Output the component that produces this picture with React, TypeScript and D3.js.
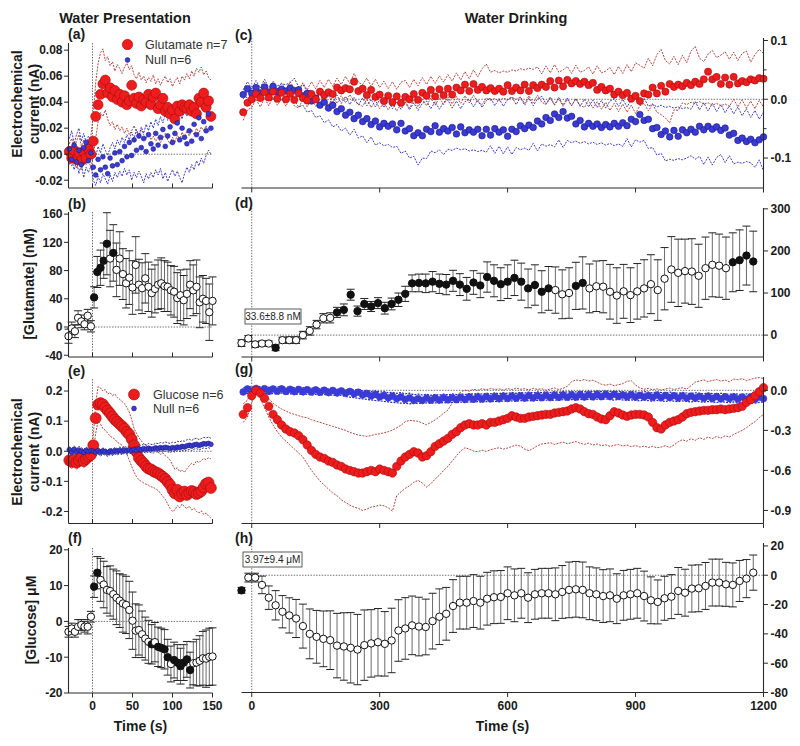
import React from "react";
import * as d3 from "d3";

const FONT = "'Liberation Sans', Arial, Helvetica, sans-serif";
const NARROW = "'Liberation Sans Narrow', 'Arial Narrow', 'Liberation Sans', Arial, sans-serif";

// ---------------- tick values ----------------
const xTicksLeft = [0, 50, 100, 150];
const xTicksRight = [0, 300, 600, 900, 1200];
const yTicksA = [-0.02, 0, 0.02, 0.04, 0.06, 0.08];
const yTicksB = [-40, 0, 40, 80, 120, 160];
const yTicksC = [-0.1, 0, 0.1];
const yMinorC = [-0.05, 0.05];
const yTicksD = [0, 100, 200, 300];
const yTicksE = [-0.2, -0.1, 0, 0.1, 0.2];
const yTicksF = [-20, -10, 0, 10, 20];
const yTicksG = [-0.9, -0.6, -0.3, 0];
const yTicksH = [-80, -60, -40, -20, 0, 20];

// ---------------- sample times (s) ----------------
const tFast = d3.range(60).map((i) => -29 + 3 * i); // panels a, e
const tBin4 = d3.range(46).map((i) => -30 + 4 * i); // panels b, f
const tDrink = d3.range(123).map((i) => -20 + 10 * i); // panels c, g
const tBin16 = d3.range(76).map((i) => -24 + 16 * i); // panels d, h

// ---------------- (a) Water presentation, glutamate sensor (nA) ----------------
const aGluMean = [.002,-.003,.003,-.004,.001,-.005,.002,-.003,.004,.0,.01,.029,.038,.046,.054,.057,.047,.051,.044,.049,.042,.046,.04,.045,.038,.041,.053,.043,.039,.044,.037,.042,.04,.046,.038,.044,.047,.035,.038,.043,.033,.036,.031,.034,.027,.037,.033,.038,.036,.035,.038,.033,.036,.031,.043,.04,.047,.036,.041,.029];
const aGluUp = [.008,.012,.004,.01,.015,.006,.011,.003,.009,.014,.03,.055,.07,.078,.081,.072,.075,.068,.071,.064,.069,.066,.062,.067,.07,.065,.068,.061,.058,.063,.057,.06,.055,.059,.056,.061,.054,.058,.053,.057,.06,.055,.058,.052,.056,.059,.054,.06,.057,.062,.058,.064,.06,.066,.063,.067,.061,.064,.059,.057];
const aGluLo = [-.004,-.009,-.002,-.011,-.006,-.012,-.003,-.008,-.005,-.01,-.002,.012,.025,.032,.029,.034,.027,.022,.025,.019,.023,.018,.021,.016,.02,.015,.018,.022,.017,.014,.019,.015,.012,.016,.011,.014,.01,.013,.009,.012,.016,.011,.008,.013,.009,.015,.011,.017,.013,.018,.014,.019,.015,.02,.016,.021,.018,.022,.017,.02];
const aNullMean = [.004,-.004,.007,-.006,.003,-.008,.005,.009,-.005,.001,-.01,-.016,-.004,-.012,-.002,-.01,-.015,-.003,-.009,.001,-.008,.002,-.005,.006,-.002,.009,-.001,.011,.003,.014,.005,.012,.002,.015,.008,.004,.016,.007,.013,.019,.006,.014,.021,.009,.016,.024,.011,.02,.013,.008,.018,.01,.023,.015,.028,.012,.025,.018,.031,.02];
const aNullUp = [.012,.018,.008,.015,.02,.01,.016,.009,.014,.011,.004,-.002,.006,.001,.008,.003,-.001,.005,.009,.004,.011,.007,.013,.009,.015,.011,.017,.012,.019,.014,.021,.016,.023,.018,.025,.02,.027,.022,.029,.024,.031,.026,.033,.028,.035,.03,.032,.027,.034,.029,.036,.031,.038,.033,.04,.035,.042,.037,.044,.04];
const aNullLo = [-.008,-.003,-.012,-.005,-.015,-.007,-.018,-.01,-.014,-.009,-.02,-.024,-.017,-.022,-.015,-.019,-.023,-.016,-.021,-.014,-.018,-.013,-.017,-.011,-.016,-.012,-.02,-.014,-.018,-.013,-.017,-.022,-.015,-.019,-.014,-.018,-.012,-.016,-.011,-.019,-.014,-.021,-.016,-.012,-.017,-.013,-.018,-.022,-.015,-.01,-.014,-.008,-.012,-.005,-.009,-.003,-.007,-.001,.003,.0];

// ---------------- (b) [Glutamate] nM, 4 s bins ----------------
const bGlu = [-13,-2,-6,13,8,4,16,1,42,78,84,94,118,97,105,81,97,75,62,70,56,88,60,55,69,57,48,54,60,62,58,57,52,50,41,45,38,47,60,52,57,35,40,37,21,37];
const bSem = [10,9,9,10,9,8,9,8,15,22,25,25,44,40,40,38,38,36,35,38,38,40,36,36,35,35,34,34,35,36,36,35,35,36,36,36,35,35,34,36,38,36,33,32,40,34];
const bFilled = [8, 9, 10, 11, 12, 14];

// ---------------- (c) Water drinking, glutamate sensor (nA) ----------------
const cGluMean = [-.022,-.006,.0,.009,.002,.012,.003,.013,.001,.011,.0,.009,-.001,.01,.002,-.002,.009,.0,.013,.007,.012,.009,.02,.015,.019,.017,.03,.014,.018,.007,.016,.004,.008,-.003,.006,-.005,.005,-.006,.004,.0,.009,-.001,.011,.006,.016,.005,.017,.007,.018,.008,.02,.015,.025,.014,.026,.016,.021,.015,.019,.014,.018,.013,.024,.014,.02,.015,.025,.014,.024,.019,.025,.021,.031,.02,.032,.022,.033,.027,.031,.026,.03,.024,.028,.016,.021,.015,.018,.008,.013,.007,.011,.001,.006,-.003,.01,.008,.02,.01,.023,.013,.026,.021,.025,.022,.028,.024,.03,.026,.034,.047,.034,.038,.026,.037,.025,.038,.027,.031,.029,.034,.032,.036,.035];
const cGluUp = [.0,.014,.01,.026,.014,.029,.016,.031,.017,.028,.015,.03,.018,.013,.028,.016,.03,.018,.032,.02,.034,.022,.036,.025,.039,.027,.044,.029,.025,.036,.022,.034,.02,.031,.018,.03,.017,.029,.032,.02,.034,.023,.037,.025,.039,.027,.04,.029,.042,.031,.045,.033,.047,.035,.05,.038,.052,.06,.046,.049,.045,.048,.046,.05,.048,.052,.05,.053,.051,.055,.043,.057,.045,.059,.046,.05,.056,.044,.058,.046,.049,.055,.043,.057,.045,.048,.054,.042,.056,.044,.059,.047,.062,.058,.053,.07,.057,.076,.085,.066,.06,.073,.059,.075,.062,.082,.09,.07,.064,.077,.083,.071,.075,.081,.068,.08,.066,.078,.082,.063,.076,.085,.078];
const cGluLo = [-.036,-.018,-.014,.0,-.013,.002,-.011,.004,-.01,.001,-.012,.002,-.011,-.015,.0,-.013,.001,-.012,.0,.002,-.011,.005,-.007,.006,-.006,.008,-.003,-.008,-.012,.0,-.014,-.002,-.016,-.005,-.018,-.006,-.02,-.008,-.004,-.015,-.002,-.013,.0,-.011,.002,-.01,.003,-.009,.004,-.008,.005,-.007,.006,-.006,.007,-.005,-.009,.002,-.002,.001,-.003,.002,-.001,.003,.0,.004,-.007,.006,-.006,.007,-.005,-.009,.002,-.01,.001,-.012,.0,-.011,.001,-.01,-.014,-.002,-.015,-.004,-.017,-.005,-.019,-.007,-.021,-.008,-.022,-.01,-.024,-.011,-.007,-.02,-.008,-.022,-.026,-.032,-.04,-.018,-.019,-.006,-.009,-.005,-.007,-.004,-.008,-.006,-.01,-.007,-.011,-.008,-.012,.0,-.013,-.001,-.015,-.003,-.016,-.002,-.013];
const cNullMean = [.008,.018,.01,.02,.011,.021,.012,.022,.013,.017,.014,.019,.015,.016,.006,.01,-.003,.002,-.01,-.005,-.015,-.01,-.021,-.016,-.027,-.022,-.033,-.027,-.038,-.033,-.043,-.037,-.047,-.041,-.046,-.042,-.052,-.041,-.054,-.05,-.062,-.057,-.062,-.051,-.055,-.045,-.056,-.05,-.054,-.048,-.059,-.047,-.057,-.052,-.056,-.051,-.062,-.051,-.061,-.05,-.056,-.052,-.063,-.051,-.055,-.045,-.05,-.044,-.048,-.037,-.042,-.031,-.036,-.025,-.031,-.021,-.032,-.029,-.042,-.036,-.047,-.041,-.046,-.042,-.048,-.043,-.047,-.041,-.046,-.04,-.045,-.034,-.038,-.026,-.036,-.034,-.05,-.048,-.06,-.054,-.064,-.053,-.063,-.052,-.057,-.051,-.056,-.046,-.052,-.046,-.051,-.047,-.053,-.049,-.061,-.058,-.07,-.066,-.072,-.068,-.074,-.069,-.064];
const cNullUp = [.016,.03,.018,.032,.019,.034,.02,.025,.023,.026,.025,.028,.036,.021,.025,.013,.016,.004,.008,.003,.006,-.006,.007,-.007,.005,-.009,.003,-.01,.002,-.011,.0,-.013,-.001,-.014,-.002,-.016,-.004,-.017,-.005,-.018,-.006,-.019,-.007,-.003,-.016,-.004,-.017,-.005,-.001,-.015,-.003,-.016,-.004,.0,-.013,-.001,-.014,-.002,.002,-.011,.001,-.012,.0,.004,-.009,.003,-.01,.002,-.011,.001,.005,-.008,.004,-.009,.003,-.01,.002,-.011,.001,-.012,.0,-.013,-.001,-.014,-.002,-.015,-.003,.001,-.012,.0,-.013,-.001,.003,-.01,.002,-.012,-.008,-.013,-.01,-.014,-.012,-.015,-.013,-.016,-.014,-.017,-.004,-.018,-.006,-.02,-.007,-.021,-.009,-.023,-.011,-.025,-.013,-.028,-.016,-.031,-.019,-.034,-.022];
const cNullLo = [.006,.002,.007,.004,.006,.002,.003,.0,.002,-.001,.0,-.003,-.002,-.013,-.01,-.022,-.019,-.031,-.028,-.04,-.035,-.047,-.043,-.054,-.049,-.061,-.051,-.066,-.062,-.074,-.064,-.078,-.074,-.079,-.077,-.082,-.08,-.092,-.088,-.1,-.097,-.112,-.1,-.101,-.088,-.091,-.086,-.094,-.085,-.087,-.083,-.086,-.084,-.088,-.086,-.089,-.087,-.09,-.079,-.092,-.08,-.093,-.081,-.094,-.082,-.086,-.083,-.087,-.075,-.088,-.076,-.08,-.077,-.081,-.069,-.082,-.07,-.074,-.071,-.075,-.072,-.076,-.073,-.077,-.074,-.078,-.075,-.079,-.076,-.08,-.067,-.081,-.069,-.073,-.07,-.084,-.082,-.095,-.092,-.105,-.102,-.104,-.101,-.103,-.1,-.096,-.102,-.097,-.111,-.098,-.112,-.099,-.094,-.108,-.096,-.11,-.107,-.109,-.106,-.108,-.116,-.103,-.122];

// ---------------- (d) [Glutamate] nM, 16 s bins ----------------
const dGlu = [-19,-8,-22,-20,-20,-30,-12,-12,-12,0,10,25,40,41,54,60,96,57,74,68,76,64,74,84,98,123,124,123,127,122,120,129,120,110,125,118,138,129,121,127,136,127,111,119,103,111,107,97,100,117,124,111,116,115,103,94,104,95,104,111,121,107,134,156,148,152,151,141,159,167,165,159,173,178,189,175];
const dSem = [8,7,7,6,6,7,7,8,8,9,10,10,11,12,12,14,13,12,13,12,13,14,14,16,18,20,21,22,24,23,24,25,26,27,28,29,36,38,39,40,42,44,46,48,50,52,55,58,60,56,62,58,60,62,65,66,64,65,66,68,70,72,74,78,80,76,78,75,74,76,75,74,70,72,70,72];
const dFilled = [5, ...d3.range(14, 46), 49, 50, 72, 73, 74, 75];

// ---------------- (e) Water presentation, glucose sensor (nA) ----------------
const eGlcMean = [-.03,-.035,-.028,-.038,-.03,-.02,-.033,-.025,-.018,-.012,.02,.11,.155,.16,.156,.145,.135,.126,.115,.105,.098,.09,.083,.075,.064,.056,.04,.02,-.002,-.022,-.032,-.04,-.05,-.058,-.06,-.066,-.07,-.073,-.079,-.085,-.092,-.102,-.112,-.128,-.14,-.128,-.15,-.14,-.134,-.145,-.138,-.132,-.135,-.142,-.138,-.132,-.12,-.108,-.104,-.122];
const eGlcUp = [-.005,-.01,.0,-.008,-.003,-.012,-.006,.002,-.004,-.002,.05,.16,.215,.21,.2,.205,.19,.195,.185,.19,.178,.172,.165,.158,.145,.13,.105,.075,.06,.045,.035,.025,.02,.012,.015,.005,.008,-.004,-.01,-.006,-.015,-.02,-.03,-.045,-.06,-.055,-.068,-.062,-.07,-.058,-.048,-.04,-.045,-.032,-.038,-.03,-.024,-.028,-.022,-.025];
const eGlcLo = [-.05,-.058,-.045,-.06,-.052,-.04,-.055,-.047,-.038,-.03,.0,.06,.1,.09,.075,.07,.06,.05,.045,.04,.03,.025,.02,.01,-.01,-.03,-.05,-.07,-.085,-.095,-.1,-.105,-.11,-.113,-.118,-.12,-.125,-.13,-.14,-.15,-.16,-.175,-.19,-.2,-.195,-.18,-.188,-.175,-.185,-.19,-.182,-.195,-.19,-.2,-.205,-.198,-.21,-.205,-.215,-.222];
const eNullMean = [.005,-.003,.006,-.002,.004,.0,-.004,.003,-.001,.002,.0,-.003,.002,-.004,.001,-.002,-.005,.0,-.003,.002,-.001,.003,.0,.004,.001,.005,.002,.006,.003,.008,.005,.009,.006,.01,.007,.008,.011,.009,.012,.01,.013,.011,.009,.012,.01,.014,.012,.016,.014,.018,.02,.017,.021,.023,.019,.022,.025,.024,.026,.023];
const eNullUp = [.015,.008,.018,.01,.016,.012,.006,.014,.009,.013,.01,.006,.012,.005,.011,.008,.004,.01,.007,.012,.009,.014,.011,.016,.013,.018,.015,.02,.017,.022,.019,.024,.021,.026,.023,.022,.027,.025,.029,.027,.031,.028,.026,.03,.028,.033,.031,.035,.033,.038,.04,.036,.041,.043,.039,.042,.046,.044,.047,.043];
const eNullLo = [-.006,-.013,-.004,-.012,-.007,-.011,-.015,-.008,-.012,-.009,-.011,-.015,-.009,-.016,-.01,-.013,-.017,-.011,-.014,-.009,-.012,-.008,-.011,-.007,-.01,-.006,-.009,-.005,-.008,-.004,-.007,-.003,-.006,-.002,-.005,-.006,-.001,-.004,.0,-.003,.001,-.002,-.004,.0,-.003,.002,-.001,.003,.0,.004,.006,.002,.007,.009,.004,.008,.011,.009,.012,.008];

// ---------------- (f) [Glucose] uM, 4 s bins ----------------
const fGlc = [-2.9,-2,-2.9,-1.5,-1,-1.5,-1.5,1.3,9.7,13.6,11.6,10.3,8.8,8.5,7.6,6.6,5.8,5,4.6,3.2,0.2,-2.6,-2.4,-3.6,-4.8,-5.7,-6.4,-5.8,-7.1,-7.4,-7.8,-10,-11.9,-10.8,-11.5,-12.5,-11.5,-10.6,-13.6,-11.7,-11.5,-11,-10.3,-10.4,-9.9,-9.8];
const fSem = [1.5,1.5,1.5,2,1.5,1.5,2,1.5,3,4.5,6,6.5,6.5,7,7,7.5,7.5,8,8,8,8,7.5,7,6.5,6,6,5.5,5.5,5.5,5.5,5.5,5,5,5,5,5,5,5,5,6,6.5,7,7.5,8,8,8];
const fFilled = [8, 9, 26, 28, 29, 30, 31, 33, 34, 35, 36, 37, 38];

// ---------------- (g) Water drinking, glucose sensor (nA) ----------------
const gGlcMean = [-.18,-.13,-.04,.0,-.02,-.06,-.12,-.18,-.22,-.26,-.29,-.31,-.32,-.34,-.37,-.41,-.45,-.48,-.5,-.51,-.53,-.54,-.56,-.57,-.59,-.6,-.61,-.62,-.62,-.61,-.6,-.61,-.59,-.6,-.61,-.62,-.57,-.53,-.5,-.48,-.46,-.47,-.5,-.49,-.46,-.42,-.4,-.38,-.36,-.33,-.31,-.28,-.26,-.25,-.26,-.26,-.25,-.26,-.24,-.24,-.23,-.22,-.21,-.19,-.2,-.21,-.21,-.2,-.195,-.19,-.185,-.18,-.18,-.17,-.165,-.16,-.155,-.14,-.13,-.14,-.16,-.175,-.18,-.2,-.215,-.22,-.19,-.16,-.17,-.185,-.195,-.185,-.18,-.18,-.185,-.2,-.24,-.28,-.29,-.26,-.24,-.23,-.22,-.2,-.175,-.165,-.16,-.155,-.15,-.15,-.145,-.145,-.14,-.145,-.14,-.135,-.13,-.12,-.09,-.07,-.04,-.01,.02];
const gGlcUp = [-.1,-.075,.005,.04,.02,-.025,-.065,-.095,-.12,-.14,-.155,-.17,-.18,-.19,-.2,-.205,-.22,-.23,-.24,-.25,-.26,-.27,-.28,-.29,-.3,-.315,-.325,-.335,-.34,-.345,-.338,-.33,-.326,-.318,-.31,-.298,-.28,-.262,-.235,-.225,-.228,-.232,-.245,-.258,-.24,-.222,-.198,-.172,-.148,-.095,-.045,-.012,.002,-.006,.008,.001,.012,.004,.015,.006,.011,.002,.014,.005,.017,.008,.013,.003,.016,.007,.012,.001,.01,.018,.006,.015,.03,.065,.078,.072,.081,.07,.076,.062,.045,.038,.047,.035,.042,.05,.068,.072,.04,.018,.008,.015,.004,.012,.002,.01,.017,.006,.014,.02,.009,.035,.062,.07,.078,.066,.074,.081,.069,.077,.064,.085,.079,.088,.072,.083,.091,.096,.088];
const gGlcLo = [-.24,-.2,-.09,-.025,-.06,-.13,-.2,-.26,-.31,-.35,-.38,-.41,-.44,-.47,-.5,-.55,-.6,-.64,-.68,-.71,-.74,-.77,-.79,-.82,-.84,-.86,-.875,-.885,-.9,-.89,-.875,-.87,-.86,-.865,-.88,-.905,-.79,-.76,-.735,-.715,-.69,-.675,-.695,-.725,-.7,-.665,-.635,-.6,-.57,-.53,-.49,-.455,-.43,-.44,-.455,-.46,-.448,-.458,-.445,-.437,-.43,-.44,-.432,-.42,-.41,-.418,-.44,-.452,-.435,-.415,-.402,-.398,-.392,-.405,-.396,-.388,-.4,-.392,-.384,-.396,-.405,-.395,-.41,-.402,-.415,-.408,-.42,-.412,-.405,-.418,-.41,-.422,-.414,-.425,-.418,-.428,-.42,-.43,-.425,-.415,-.428,-.41,-.385,-.37,-.382,-.362,-.375,-.355,-.368,-.35,-.362,-.345,-.358,-.34,-.35,-.33,-.315,-.3,-.28,-.255,-.235,-.205,-.18];
const gNullMean = [-.012,.01,-.004,.013,-.003,.012,-.007,.01,-.006,.011,-.008,.008,-.009,.007,-.01,.005,-.012,.004,-.014,.001,-.016,-.001,-.018,-.004,-.022,-.008,-.026,-.014,-.034,-.024,-.042,-.031,-.049,-.038,-.056,-.044,-.062,-.05,-.068,-.056,-.074,-.062,-.075,-.058,-.073,-.057,-.072,-.055,-.07,-.054,-.069,-.052,-.067,-.05,-.066,-.049,-.064,-.047,-.063,-.046,-.061,-.044,-.06,-.043,-.058,-.041,-.057,-.04,-.056,-.039,-.054,-.037,-.053,-.036,-.052,-.035,-.051,-.034,-.05,-.033,-.049,-.032,-.048,-.031,-.047,-.03,-.046,-.029,-.045,-.035,-.048,-.034,-.05,-.037,-.049,-.039,-.052,-.036,-.054,-.038,-.053,-.04,-.056,-.041,-.058,-.043,-.057,-.045,-.06,-.044,-.061,-.046,-.063,-.048,-.062,-.049,-.064,-.05,-.066,-.049,-.067,-.051,-.062];
const gNullUp = [.018,.03,.024,.033,.027,.031,.022,.029,.025,.032,.02,.027,.019,.026,.018,.024,.015,.022,.013,.019,.01,.017,.008,.014,.004,.009,.002,.006,-.004,.0,-.008,-.005,-.013,-.009,-.018,-.014,-.022,-.017,-.026,-.021,-.034,-.028,-.035,-.03,-.037,-.031,-.036,-.029,-.034,-.027,-.032,-.026,-.031,-.024,-.029,-.022,-.028,-.021,-.026,-.019,-.025,-.018,-.023,-.016,-.022,-.015,-.02,-.013,-.019,-.012,-.017,-.011,-.016,-.009,-.015,-.008,-.013,-.007,-.012,-.006,-.011,-.005,-.01,-.004,-.009,-.003,-.008,-.012,-.006,-.011,-.014,-.008,-.012,-.016,-.01,-.014,-.018,-.012,-.016,-.02,-.014,-.018,-.022,-.016,-.02,-.024,-.018,-.022,-.026,-.02,-.024,-.028,-.022,-.026,-.03,-.024,-.028,-.032,-.026,-.03,-.034,-.028,-.025];
const gNullLo = [-.032,-.022,-.028,-.02,-.027,-.021,-.03,-.023,-.029,-.02,-.031,-.025,-.033,-.026,-.034,-.028,-.036,-.03,-.038,-.031,-.04,-.034,-.043,-.036,-.046,-.051,-.055,-.06,-.064,-.068,-.072,-.076,-.079,-.083,-.086,-.09,-.093,-.096,-.098,-.101,-.099,-.096,-.099,-.094,-.098,-.093,-.096,-.091,-.095,-.09,-.093,-.088,-.092,-.086,-.09,-.085,-.089,-.083,-.087,-.082,-.086,-.08,-.084,-.079,-.083,-.077,-.081,-.076,-.08,-.074,-.079,-.073,-.077,-.072,-.076,-.07,-.075,-.069,-.073,-.068,-.072,-.067,-.071,-.066,-.07,-.065,-.069,-.073,-.068,-.072,-.076,-.071,-.075,-.079,-.073,-.077,-.081,-.075,-.079,-.083,-.077,-.081,-.085,-.079,-.083,-.087,-.081,-.085,-.089,-.083,-.087,-.091,-.085,-.089,-.093,-.087,-.091,-.095,-.089,-.093,-.096,-.09,-.088];

// ---------------- (h) [Glucose] uM, 16 s bins ----------------
const hGlc = [-10.3,-1.6,-1.6,-6.6,-15.3,-20.5,-24.9,-27.4,-29.5,-34.7,-40,-42,-43.4,-44.3,-48,-48.6,-49.5,-50.7,-47.7,-46.5,-45.7,-46.8,-44.5,-37.7,-36.3,-34.2,-35,-35.3,-31.3,-28.3,-26.3,-21,-18.7,-18.7,-17.6,-18.7,-16,-15,-14.8,-12.3,-13.7,-12.3,-15.3,-13,-12.3,-12.3,-13,-11.4,-10,-9.6,-10,-12.3,-13,-14.2,-13.7,-16,-13.7,-13,-12.3,-14.2,-17.1,-18.2,-15.7,-14.6,-10.7,-11.9,-9.1,-8.9,-7.3,-5,-5,-6.2,-6.6,-3.9,-2.3,1.8];
const hSem = [2,3,3,6,8,10,11,12,13,15,17,18,19,20,22,23,24,24,24,23,23,22,22,21,21,20,20,19,19,19,18,18,18,18,18,18,18,18,18,18,18,17,17,17,17,17,18,18,19,19,19,18,18,18,18,17,17,17,17,17,16,15,15,15,16,16,16,16,16,16,16,15,15,14,13,12];
const hFilled = [0];

// ---------------- scales ----------------
const xL = d3.scaleLinear().domain([-30, 150]).range([68.5, 212.5]);
const xR = d3.scaleLinear().domain([-24, 1200]).range([241.5, 763.5]);
const yA = d3.scaleLinear().domain([-0.026, 0.0855]).range([188, 43]);
const yB = d3.scaleLinear().domain([-42.5, 163]).range([357, 212]);
const yC = d3.scaleLinear().domain([-0.151, 0.1043]).range([188, 38]);
const yD = d3.scaleLinear().domain([-52, 302]).range([357, 208]);
const yE = d3.scaleLinear().domain([-0.24, 0.24]).range([523.5, 379]);
const yF = d3.scaleLinear().domain([-20, 20.5]).range([693, 548]);
const yG = d3.scaleLinear().domain([-0.998, 0.1]).range([523.5, 377]);
const yH = d3.scaleLinear().domain([-80, 22]).range([692.5, 543]);

const AX = "#2a2a2a";
const TXT = "#1a1a1a";
const RED = "#ee1c1c";
const RED_S = "#a30d0d";
const RED_ENV = "#a8342e";
const BLUE = "#3a3ad6";
const BLUE_S = "#1a1a80";
const BLUE_ENV = "#2a2ab8";

type Sc = d3.ScaleLinear<number, number>;

const lineOf = (x: Sc, y: Sc, t: number[]) =>
  d3.line<number>().x((_, i) => x(t[i])).y((d) => y(d));

function Env({ x, y, t, v, color, w = 0.9 }: any) {
  return (
    <path d={lineOf(x, y, t)(v) || ""} fill="none" stroke={color} strokeWidth={w} strokeDasharray="2,1.2" />
  );
}

function Dots({ x, y, t, v, r, fill, stroke, sw = 0.6 }: any) {
  return (
    <g>
      {v.map((d: number, i: number) => (
        <circle key={i} cx={x(t[i])} cy={y(d)} r={r} fill={fill} stroke={stroke} strokeWidth={sw} />
      ))}
    </g>
  );
}

function ErrPts({ x, y, t, v, s, filled, r = 3.7 }: any) {
  const set = new Set(filled);
  return (
    <g>
      {v.map((d: number, i: number) => {
        const cx = x(t[i]);
        const y1 = y(d + s[i]);
        const y2 = y(d - s[i]);
        return (
          <g key={"e" + i}>
            <line x1={cx} x2={cx} y1={y1} y2={y2} stroke="#6a6a6a" strokeWidth={1} />
            <line x1={cx - 4} x2={cx + 4} y1={y1} y2={y1} stroke="#222" strokeWidth={1} />
            <line x1={cx - 4} x2={cx + 4} y1={y2} y2={y2} stroke="#222" strokeWidth={1} />
          </g>
        );
      })}
      {v.map((d: number, i: number) => (
        <circle key={"c" + i} cx={x(t[i])} cy={y(d)} r={r} fill={set.has(i) ? "#111" : "#fff"} stroke="#111" strokeWidth={1} />
      ))}
    </g>
  );
}

function RefLines({ x, y }: { x: Sc; y: Sc }) {
  const [b, top] = y.range();
  return (
    <g stroke="#444" strokeWidth={0.8} strokeDasharray="1.4,1.4">
      <line x1={x(0)} x2={x(0)} y1={top} y2={b} />
      <line x1={x(0)} x2={x.range()[1]} y1={y(0)} y2={y(0)} />
    </g>
  );
}

function YLeft({ y, ticks, fmt }: any) {
  const [b, top] = y.range();
  const x0 = 68.5;
  return (
    <g>
      <line x1={x0} x2={x0} y1={top} y2={b} stroke={AX} strokeWidth={1.1} />
      {ticks.map((v: number) => (
        <g key={v}>
          <line x1={x0 - 4.5} x2={x0} y1={y(v)} y2={y(v)} stroke={AX} strokeWidth={1} />
          <text x={x0 - 6} y={y(v)} dy="0.36em" textAnchor="end" fontFamily={NARROW} fontWeight="bold" fontSize={12} fill={TXT}>
            {fmt(v)}
          </text>
        </g>
      ))}
    </g>
  );
}

function YRight({ y, ticks, fmt, minor = [] }: any) {
  const [b, top] = y.range();
  const x0 = 763.5;
  return (
    <g>
      <line x1={x0} x2={x0} y1={top} y2={b} stroke={AX} strokeWidth={1.1} />
      {minor.map((v: number) => (
        <line key={"m" + v} x1={x0} x2={x0 + 3} y1={y(v)} y2={y(v)} stroke={AX} strokeWidth={1} />
      ))}
      {ticks.map((v: number) => (
        <g key={v}>
          <line x1={x0} x2={x0 + 4.5} y1={y(v)} y2={y(v)} stroke={AX} strokeWidth={1} />
          <text x={x0 + 7} y={y(v)} dy="0.36em" textAnchor="start" fontFamily={NARROW} fontWeight="bold" fontSize={12} fill={TXT}>
            {fmt(v)}
          </text>
        </g>
      ))}
    </g>
  );
}

function XAxis({ x, y0, ticks, dir = 1, labels = false }: any) {
  const [a, b] = x.range();
  return (
    <g>
      <line x1={a} x2={b} y1={y0} y2={y0} stroke={AX} strokeWidth={1.1} />
      {ticks.map((v: number) => (
        <g key={v}>
          <line x1={x(v)} x2={x(v)} y1={y0} y2={y0 + dir * 4.5} stroke={AX} strokeWidth={1} />
          {labels && (
            <text x={x(v)} y={y0 + 17} textAnchor="middle" fontFamily={NARROW} fontWeight="bold" fontSize={12} fill={TXT}>
              {v}
            </text>
          )}
        </g>
      ))}
    </g>
  );
}

function PanelLabel({ x, y, text }: any) {
  return (
    <text x={x} y={y} fontFamily={FONT} fontWeight="bold" fontSize={14} fill={TXT}>
      {text}
    </text>
  );
}

function YTitle({ x, y, lines, gap = 17 }: any) {
  return (
    <g>
      {lines.map((s: string, i: number) => (
        <text key={i} transform={`translate(${x + i * gap},${y}) rotate(-90)`} textAnchor="middle" fontFamily={NARROW} fontWeight="bold" fontSize={14} fill={TXT}>
          {s}
        </text>
      ))}
    </g>
  );
}

const f2 = (v: number) => v.toFixed(2);
const f1 = (v: number) => v.toFixed(1);
const f0 = (v: number) => String(v);

export default function App() {
  return (
    <svg width={800} height={746} viewBox="0 0 800 746" style={{ position: "absolute", left: 0, top: 0, background: "#fff" }}>
      <rect x={0} y={0} width={800} height={746} fill="#fff" />

      {/* titles */}
      <text x={125} y={22.5} textAnchor="middle" fontFamily={FONT} fontWeight="bold" fontSize={14.5} fill={TXT}>Water Presentation</text>
      <text x={516} y={22.5} textAnchor="middle" fontFamily={FONT} fontWeight="bold" fontSize={14.5} fill={TXT}>Water Drinking</text>

      {/* ---------- (a) ---------- */}
      <RefLines x={xL} y={yA} />
      <Env x={xL} y={yA} t={tFast} v={aGluUp} color={RED_ENV} />
      <Env x={xL} y={yA} t={tFast} v={aGluLo} color={RED_ENV} />
      <Env x={xL} y={yA} t={tFast} v={aNullUp} color={BLUE_ENV} />
      <Env x={xL} y={yA} t={tFast} v={aNullLo} color={BLUE_ENV} />
      <Dots x={xL} y={yA} t={tFast} v={aGluMean} r={5} fill={RED} stroke={RED_S} />
      <Dots x={xL} y={yA} t={tFast} v={aNullMean} r={2.4} fill={BLUE} stroke={BLUE_S} />
      <YLeft y={yA} ticks={yTicksA} fmt={f2} />
      <XAxis x={xL} y0={188} ticks={xTicksLeft} dir={-1} />
      <PanelLabel x={68} y={38.5} text="(a)" />
      <YTitle x={22} y={104} lines={["Electrochemical", "current (nA)"]} />
      <circle cx={127.5} cy={44.5} r={5.2} fill={RED} stroke={RED_S} strokeWidth={0.6} />
      <text x={145} y={48.8} fontFamily={NARROW} fontSize={12.5} fill="#333">Glutamate n=7</text>
      <circle cx={127.5} cy={60} r={2.4} fill={BLUE} stroke={BLUE_S} strokeWidth={0.6} />
      <text x={145} y={64.3} fontFamily={NARROW} fontSize={12.5} fill="#333">Null n=6</text>

      {/* ---------- (b) ---------- */}
      <RefLines x={xL} y={yB} />
      <ErrPts x={xL} y={yB} t={tBin4} v={bGlu} s={bSem} filled={bFilled} />
      <YLeft y={yB} ticks={yTicksB} fmt={f0} />
      <XAxis x={xL} y0={357} ticks={xTicksLeft} dir={-1} />
      <PanelLabel x={68} y={209} text="(b)" />
      <YTitle x={34} y={284} lines={["[Glutamate] (nM)"]} />

      {/* ---------- (c) ---------- */}
      <RefLines x={xR} y={yC} />
      <Env x={xR} y={yC} t={tDrink} v={cNullUp} color={BLUE_ENV} />
      <Env x={xR} y={yC} t={tDrink} v={cNullLo} color={BLUE_ENV} />
      <Env x={xR} y={yC} t={tDrink} v={cGluUp} color={RED_ENV} />
      <Env x={xR} y={yC} t={tDrink} v={cGluLo} color={RED_ENV} />
      <Dots x={xR} y={yC} t={tDrink} v={cNullMean} r={3.3} fill={BLUE} stroke={BLUE_S} />
      <Dots x={xR} y={yC} t={tDrink} v={cGluMean} r={3.6} fill={RED} stroke={RED_S} />
      <YRight y={yC} ticks={yTicksC} fmt={f1} minor={yMinorC} />
      <XAxis x={xR} y0={188} ticks={xTicksRight} dir={1} />
      <PanelLabel x={235} y={40} text="(c)" />

      {/* ---------- (d) ---------- */}
      <RefLines x={xR} y={yD} />
      <ErrPts x={xR} y={yD} t={tBin16} v={dGlu} s={dSem} filled={dFilled} />
      <YRight y={yD} ticks={yTicksD} fmt={f0} />
      <XAxis x={xR} y0={357} ticks={xTicksRight} dir={1} />
      <PanelLabel x={235} y={208} text="(d)" />
      <rect x={245} y={309} width={56} height={15} fill="#fff" stroke="#333" strokeWidth={0.8} />
      <text x={273} y={320.3} textAnchor="middle" fontFamily={NARROW} fontSize={10} fill="#222">33.6±8.8 nM</text>

      {/* ---------- (e) ---------- */}
      <RefLines x={xL} y={yE} />
      <Env x={xL} y={yE} t={tFast} v={eGlcUp} color={RED_ENV} />
      <Env x={xL} y={yE} t={tFast} v={eGlcLo} color={RED_ENV} />
      <Env x={xL} y={yE} t={tFast} v={eNullUp} color="#23235a" />
      <Env x={xL} y={yE} t={tFast} v={eNullLo} color="#23235a" />
      <Dots x={xL} y={yE} t={tFast} v={eGlcMean} r={5.5} fill={RED} stroke={RED_S} />
      <Dots x={xL} y={yE} t={tFast} v={eNullMean} r={2.4} fill={BLUE} stroke={BLUE_S} />
      <YLeft y={yE} ticks={yTicksE} fmt={f1} />
      <XAxis x={xL} y0={523.5} ticks={xTicksLeft} dir={-1} />
      <PanelLabel x={68} y={376} text="(e)" />
      <YTitle x={22} y={452} lines={["Electrochemical", "current (nA)"]} />
      <circle cx={134} cy={394.5} r={5.5} fill={RED} stroke={RED_S} strokeWidth={0.6} />
      <text x={153} y={398.8} fontFamily={NARROW} fontSize={12.5} fill="#333">Glucose n=6</text>
      <circle cx={134} cy={408.5} r={2.4} fill={BLUE} stroke={BLUE_S} strokeWidth={0.6} />
      <text x={153} y={412.8} fontFamily={NARROW} fontSize={12.5} fill="#333">Null n=6</text>

      {/* ---------- (g) ---------- */}
      <RefLines x={xR} y={yG} />
      <Env x={xR} y={yG} t={tDrink} v={gGlcUp} color={RED_ENV} />
      <Env x={xR} y={yG} t={tDrink} v={gGlcLo} color={RED_ENV} />
      <Env x={xR} y={yG} t={tDrink} v={gNullUp} color={BLUE_ENV} w={1.2} />
      <Env x={xR} y={yG} t={tDrink} v={gNullLo} color={BLUE_ENV} w={1.2} />
      <Dots x={xR} y={yG} t={tDrink} v={gNullMean} r={3.4} fill={BLUE} stroke={BLUE} />
      <Dots x={xR} y={yG} t={tDrink} v={gGlcMean} r={4.2} fill={RED} stroke={RED_S} />
      <YRight y={yG} ticks={yTicksG} fmt={f1} />
      <XAxis x={xR} y0={523.5} ticks={xTicksRight} dir={1} />
      <PanelLabel x={235} y={374} text="(g)" />

      {/* ---------- (f) ---------- */}
      <RefLines x={xL} y={yF} />
      <ErrPts x={xL} y={yF} t={tBin4} v={fGlc} s={fSem} filled={fFilled} />
      <YLeft y={yF} ticks={yTicksF} fmt={f0} />
      <XAxis x={xL} y0={693} ticks={xTicksLeft} dir={1} labels />
      <PanelLabel x={68} y={543} text="(f)" />
      <YTitle x={36} y={620} lines={["[Glucose] μM"]} />
      <text x={140.5} y={731} textAnchor="middle" fontFamily={NARROW} fontWeight="bold" fontSize={14} fill={TXT}>Time (s)</text>

      {/* ---------- (h) ---------- */}
      <RefLines x={xR} y={yH} />
      <ErrPts x={xR} y={yH} t={tBin16} v={hGlc} s={hSem} filled={hFilled} />
      <YRight y={yH} ticks={yTicksH} fmt={f0} />
      <XAxis x={xR} y0={692.5} ticks={xTicksRight} dir={1} labels />
      <PanelLabel x={235} y={543} text="(h)" />
      <rect x={243} y={552} width={59} height={15} fill="#fff" stroke="#333" strokeWidth={0.8} />
      <text x={272.5} y={563.3} textAnchor="middle" fontFamily={NARROW} fontSize={10} fill="#222">3.97±9.4 μM</text>
      <text x={502.5} y={731} textAnchor="middle" fontFamily={NARROW} fontWeight="bold" fontSize={14} fill={TXT}>Time (s)</text>
    </svg>
  );
}
